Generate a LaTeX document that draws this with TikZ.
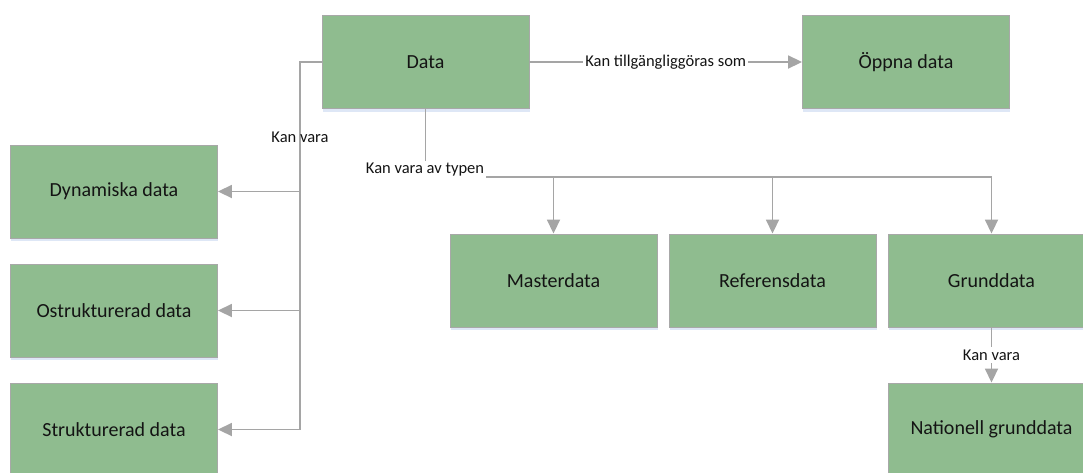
\documentclass[tikz,border=0pt]{standalone}
\usepackage{fontspec}
\setmainfont{Carlito}
\usetikzlibrary{arrows.meta,shadows}
\definecolor{boxfill}{RGB}{143,188,143}
\definecolor{boxline}{RGB}{168,168,168}
\definecolor{wire}{RGB}{165,165,165}
\definecolor{ink}{RGB}{20,20,20}
\definecolor{haze}{RGB}{200,215,240}

\begin{document}
\begin{tikzpicture}[x=1pt,y=-1pt,
  entity/.style={draw=boxline, line width=0.9pt, fill=boxfill,
    minimum width=207pt, minimum height=93pt, inner sep=0pt,
    font=\fontsize{20}{24}\selectfont, text=ink,
    drop shadow={shadow xshift=0.5pt, shadow yshift=-3pt, fill=haze, opacity=0.6}},
  wireline/.style={draw=wire, line width=1.8pt},
  link/.style={wireline, -{Triangle[length=14pt,width=13pt]}},
  tag/.style={font=\fontsize{16.5}{19}\selectfont, text=ink, inner xsep=2pt, inner ysep=2.5pt}]

\useasboundingbox (0,0) rectangle (1083,472);

% boxes
\node[entity] (data)   at (425.5,62)  {Data};
\node[entity] (oppna)  at (906,62)    {Öppna data};
\node[entity] (dyn)    at (114,191.5) {Dynamiska data};
\node[entity] (ostr)   at (114,310.5) {Ostrukturerad data};
\node[entity] (strukt) at (114,429.5) {Strukturerad data};
\node[entity] (master) at (553.5,280.5) {Masterdata};
\node[entity] (ref)    at (772.5,280.5) {Referensdata};
\node[entity] (grund)  at (991.5,280.5) {Grunddata};
\node[entity] (nat)    at (991.5,429.5) {Nationell grunddata};

% left trunk: kinds of data
\coordinate (trunk) at (300,62);
\draw[link] (data.west) -- (trunk) |- (strukt.east);
\draw[link] (trunk) |- (dyn.east);
\draw[link] (trunk) |- (ostr.east);
\node[tag] (kanvara) at (300,137) {Kan vara};

% bus below Data: data types
\coordinate (bus) at (425.5,177);
\draw[link] (data.south) -- (bus) -| (grund.north);
\draw[link] (bus) -| (master.north);
\draw[link] (bus) -| (ref.north);
\node[tag, fill=white] (typen) at (425,170) {Kan vara av typen};

% open data
\draw[link] (data.east) -- (oppna.west)
  node[midway, tag, fill=white] (tillg) {Kan tillgängliggöras som};

% national base data
\draw[link] (grund.south) -- (nat.north)
  node[midway, tag, fill=white] (kanvara2) {Kan vara};

\end{tikzpicture}
\end{document}
